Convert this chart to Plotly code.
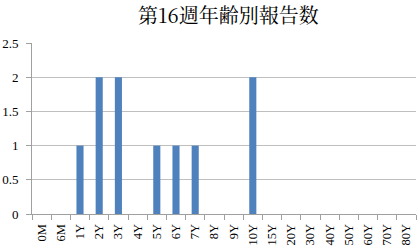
import plotly.graph_objects as go

categories = ["0M", "6M", "1Y", "2Y", "3Y", "4Y", "5Y", "6Y", "7Y", "8Y", "9Y", "10Y",
              "15Y", "20Y", "30Y", "40Y", "50Y", "60Y", "70Y", "80Y"]
counts = [0, 0, 1, 2, 2, 0, 1, 1, 1, 0, 0, 2, 0, 0, 0, 0, 0, 0, 0, 0]
y_ticks = [0, 0.5, 1, 1.5, 2, 2.5]
y_labels = ["0", "0.5", "1", "1.5", "2", "2.5"]

serif = "Liberation Serif, Times New Roman, serif"

fig = go.Figure(go.Bar(x=categories, y=counts, marker=dict(color="#4F81BD", line=dict(width=0))))

fig.update_layout(
    width=419, height=251,
    margin=dict(l=32, r=3, t=43, b=37),
    paper_bgcolor="white", plot_bgcolor="white",
    bargap=0.63,
    showlegend=False,
    title=dict(text="第16週年齢別報告数", x=0.545, xanchor="center", y=0.935, yanchor="middle",
               font=dict(family="Noto Serif CJK JP, Noto Sans CJK JP", size=20, color="#000")),
    font=dict(family=serif, size=13, color="#000"),
)
fig.update_xaxes(
    type="category", tickangle=-90, showgrid=False, automargin=False,
    showline=True, linecolor="#A0A0A0", linewidth=1,
    ticks="outside", ticklen=5, tickcolor="#A0A0A0", tickson="boundaries",
    tickfont=dict(family=serif, size=12.5), ticklabelstandoff=4,
)
fig.update_yaxes(
    range=[0, 2.5], tickvals=y_ticks, ticktext=y_labels, automargin=False,
    showgrid=True, gridcolor="#BFBFBF", gridwidth=1,
    showline=True, linecolor="#A0A0A0", linewidth=1,
    ticks="outside", ticklen=5, tickcolor="#A0A0A0",
    zeroline=False, tickfont=dict(family=serif, size=13), ticklabelstandoff=5,
)

fig.write_html("out.html")
